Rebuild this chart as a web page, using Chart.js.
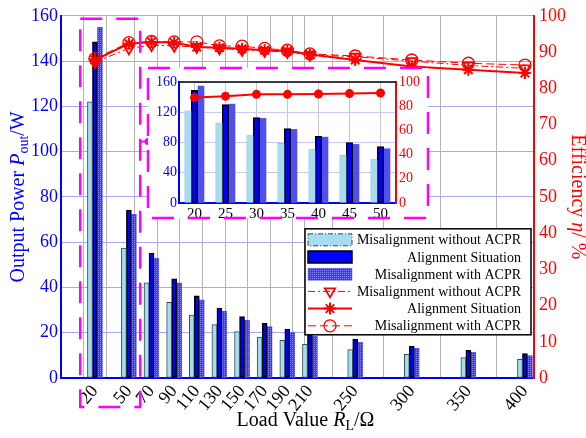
<!DOCTYPE html>
<html>
<head>
<meta charset="utf-8">
<script src="https://cdn.jsdelivr.net/npm/chart.js@4.4.1/dist/chart.umd.min.js"></script>
<style>
  html, body { margin: 0; padding: 0; background: #fff; }
  #wrap { position: relative; width: 586px; height: 438px; }
  #mainChart { position: absolute; left: 0; top: 0; }
  #insetChart { position: absolute; left: 144px; top: 64px; }
</style>
</head>
<body>
<div id="wrap">
  <canvas id="mainChart" width="586" height="438"></canvas>
  <canvas id="insetChart" width="290" height="160"></canvas>
</div>
<script>
// Valores de carga (ohm) del gráfico principal
const loadValues = [20, 50, 70, 90, 110, 130, 150, 170, 190, 210, 250, 300, 350, 400];
// Líneas verticales de la rejilla
const xGridValues = [0, 20, 40, 60, 80, 100, 120, 140, 160, 180, 200, 210, 250, 300, 350, 400];

// Potencia de salida (W)
const powerNoAcpr = [122, 57.4, 42, 33.4, 27.8, 23.6, 20.5, 18.1, 16.6, 14.9, 12.5, 10.5, 9, 8.2];
const powerAlign = [148.5, 74.2, 55.2, 43.8, 36.3, 30.9, 27.1, 24.2, 21.6, 19.5, 17.2, 14, 12.2, 10.8];
const powerWithAcpr = [155, 72.3, 53, 42, 34.5, 29.4, 25.6, 22.7, 20.3, 18.5, 15.9, 13.1, 11.4, 9.9];

// Eficiencia (%)
const effNoAcpr = [87.2, 91.0, 91.9, 91.7, 91.4, 91.0, 90.6, 90.3, 90.0, 89.2, 88.7, 87.5, 86.3, 85.5];
const effAlign = [87.8, 92.3, 92.8, 92.6, 91.4, 91.2, 90.9, 90.5, 90.3, 89.3, 87.8, 86.0, 85.1, 84.2];
const effWithAcpr = [88.2, 92.6, 92.9, 92.8, 92.8, 91.7, 91.6, 91.0, 90.5, 89.5, 88.9, 87.8, 86.9, 86.4];

// Datos del gráfico ampliado
const insetLoads = [20, 25, 30, 35, 40, 45, 50];
const insetNoAcpr = [122, 106, 89, 79, 70.5, 63, 57.5];
const insetAlign = [149, 130, 113, 98.5, 88, 80, 74.5];
const insetWithAcpr = [155, 131, 112, 97.5, 87.5, 77.5, 72];
const insetEffAlign = [87.1, 88.2, 89.8, 89.8, 90.1, 90.4, 90.9];

const FONT = "'Liberation Serif', 'Times New Roman', serif";
const RED = "#ff0000";
const BLUE = "#0000ff";
const LIGHT = "#a6dcf0";

const toXY = (ys) => loadValues.map((x, i) => ({ x: x, y: ys[i] }));
const xTickValues = Array.from(new Set([...xGridValues, ...loadValues])).sort((a, b) => a - b);

// Textura punteada para las barras "with ACPR"
function dotPattern() {
  const c = document.createElement("canvas");
  c.width = 2; c.height = 2;
  const g = c.getContext("2d");
  g.fillStyle = "#3c3cf0"; g.fillRect(0, 0, 2, 2);
  g.fillStyle = "#8080ff"; g.fillRect(0, 0, 1, 1);
  return g.createPattern(c, "repeat");
}
const bluePattern = dotPattern();

// Texto con cursiva y subíndices
function drawRichText(ctx, parts, cx, cy, angle, color) {
  ctx.save();
  ctx.translate(cx, cy);
  ctx.rotate(angle);
  ctx.fillStyle = color;
  ctx.textBaseline = "middle";
  ctx.textAlign = "left";
  const fontOf = (p) => `${p.italic ? "italic " : ""}${p.sub ? 14 : 20}px ${FONT}`;
  let total = 0;
  parts.forEach((p) => { ctx.font = fontOf(p); total += ctx.measureText(p.t).width; });
  let x = -total / 2;
  parts.forEach((p) => {
    ctx.font = fontOf(p);
    ctx.fillText(p.t, x, p.sub ? 5 : 0);
    x += ctx.measureText(p.t).width;
  });
  ctx.restore();
}

const titlesPlugin = {
  id: "titles",
  afterDraw(chart) {
    const ctx = chart.ctx;
    const a = chart.chartArea;
    const midY = (a.top + a.bottom) / 2;
    drawRichText(ctx, [{ t: "Output Power " }, { t: "P", italic: true }, { t: "out", sub: true }, { t: "/W" }],
      19, midY, -Math.PI / 2, BLUE);
    drawRichText(ctx, [{ t: "Efficiency " }, { t: "η", italic: true }, { t: "/ %" }],
      577, midY, Math.PI / 2, RED);
    drawRichText(ctx, [{ t: "Load Value " }, { t: "R", italic: true }, { t: "L", sub: true }, { t: "/Ω" }],
      (a.left + a.right) / 2 + 8, 421, 0, "#000");
  },
};

// Recuadros magenta que marcan la zona ampliada
const zoomMarkPlugin = {
  id: "zoomMark",
  afterDatasetsDraw(chart) {
    const ctx = chart.ctx;
    const xs = chart.scales.x;
    const a = chart.chartArea;
    const x1 = xs.getPixelForValue(7);
    const x2 = xs.getPixelForValue(60);
    const y1 = a.top + 3;
    const y2 = a.bottom + 29;
    ctx.save();
    ctx.strokeStyle = "#ff00ff";
    ctx.lineWidth = 2.5;
    ctx.setLineDash([22, 14]);
    ctx.strokeRect(x1, y1, x2 - x1, y2 - y1);
    ctx.setLineDash([]);
    ctx.lineWidth = 2;
    ctx.beginPath();
    ctx.moveTo(x2, 141.5);
    ctx.lineTo(148, 141.5);
    ctx.stroke();
    ctx.fillStyle = "#ff00ff";
    ctx.beginPath();
    ctx.arc(148, 141.5, 3.5, 0, Math.PI * 2);
    ctx.fill();
    ctx.restore();
  },
};

// Leyenda dibujada dentro del área del gráfico
const legendPlugin = {
  id: "legendBox",
  afterDraw(chart) {
    const ctx = chart.ctx;
    const a = chart.chartArea;
    const w = 226, h = 106;
    const x = a.right - 229, y = a.top + 213;
    ctx.save();
    ctx.fillStyle = "#fff";
    ctx.fillRect(x, y, w, h);
    ctx.strokeStyle = "#000";
    ctx.lineWidth = 1.5;
    ctx.strokeRect(x, y, w, h);
    chart.data.datasets.forEach((ds, i) => {
      const cy = y + 11 + i * 17.2;
      const sx = x + 3, sw = 44;
      ctx.save();
      if (ds.type === "line") {
        ctx.strokeStyle = ds.borderColor;
        ctx.lineWidth = ds.borderWidth;
        ctx.setLineDash(ds.borderDash || []);
        ctx.beginPath();
        ctx.moveTo(sx, cy);
        ctx.lineTo(sx + sw, cy);
        ctx.stroke();
        ctx.setLineDash([]);
        ctx.fillStyle = ds.pointBackgroundColor;
        ctx.lineWidth = ds.pointBorderWidth;
        Chart.helpers.drawPoint(ctx, {
          pointStyle: ds.pointStyle, rotation: ds.pointRotation || 0,
          radius: ds.pointRadius, borderWidth: ds.pointBorderWidth,
        }, sx + sw / 2, cy);
      } else {
        ctx.fillStyle = ds.backgroundColor;
        ctx.fillRect(sx, cy - 6, sw, 12);
        ctx.strokeStyle = ds.borderColor;
        ctx.lineWidth = ds.borderWidth;
        if (ds.legendDash) ctx.setLineDash(ds.legendDash);
        ctx.strokeRect(sx, cy - 6, sw, 12);
      }
      ctx.restore();
      ctx.fillStyle = "#000";
      ctx.font = `14px ${FONT}`;
      ctx.textAlign = "right";
      ctx.textBaseline = "middle";
      ctx.fillText(ds.label, x + 216, cy + 1);
    });
    ctx.restore();
  },
};

const tickFont = { family: FONT, size: 18 };

new Chart(document.getElementById("mainChart"), {
  type: "bar",
  data: {
    datasets: [
      {
        label: "Misalignment without ACPR", data: toXY(powerNoAcpr),
        backgroundColor: LIGHT, borderColor: "#2f4f4f", borderWidth: 1, legendDash: [5, 2, 1, 2],
        barThickness: 5, borderSkipped: false, order: 2,
      },
      {
        label: "Alignment Situation", data: toXY(powerAlign),
        backgroundColor: BLUE, borderColor: "#000", borderWidth: 1.5,
        barThickness: 5, borderSkipped: false, order: 2,
      },
      {
        label: "Misalignment with ACPR", data: toXY(powerWithAcpr),
        backgroundColor: bluePattern, borderColor: "#5a5af5", borderWidth: 0.5,
        barThickness: 5, borderSkipped: false, order: 2,
      },
      {
        type: "line", label: "Misalignment without ACPR", data: toXY(effNoAcpr), yAxisID: "y2",
        borderColor: RED, borderWidth: 1, borderDash: [7, 3, 2, 3],
        pointStyle: "triangle", pointRotation: 180, pointRadius: 6, pointBorderWidth: 1.8,
        pointBorderColor: RED, pointBackgroundColor: "rgba(255,255,255,0)", order: 1,
      },
      {
        type: "line", label: "Alignment Situation", data: toXY(effAlign), yAxisID: "y2",
        borderColor: RED, borderWidth: 2,
        pointStyle: "star", pointRadius: 6, pointBorderWidth: 2,
        pointBorderColor: RED, pointBackgroundColor: RED, order: 1,
      },
      {
        type: "line", label: "Misalignment with ACPR", data: toXY(effWithAcpr), yAxisID: "y2",
        borderColor: RED, borderWidth: 1, borderDash: [8, 4],
        pointStyle: "circle", pointRadius: 6, pointBorderWidth: 1.3,
        pointBorderColor: RED, pointBackgroundColor: "rgba(255,255,255,0)", order: 1,
      },
    ],
  },
  options: {
    responsive: false,
    animation: false,
    devicePixelRatio: 1,
    layout: { padding: { top: 11, left: 0, right: 0, bottom: 0 } },
    plugins: { legend: { display: false }, tooltip: { enabled: false } },
    scales: {
      x: {
        type: "linear", min: -10, max: 408, offset: false,
        afterBuildTicks: (s) => { s.ticks = xTickValues.map((v) => ({ value: v })); },
        afterFit: (s) => { s.height = 60; },
        grid: {
          color: (c) => (c.tick && xGridValues.includes(c.tick.value) ? "#b4b4b4" : "rgba(0,0,0,0)"),
          drawTicks: false,
        },
        border: { color: BLUE, width: 2 },
        ticks: {
          autoSkip: false, minRotation: 50, maxRotation: 50, padding: 3,
          color: "#000", font: tickFont,
          callback: (v) => (loadValues.includes(v) ? String(v) : ""),
        },
      },
      y: {
        position: "left", min: 0, max: 160,
        afterFit: (s) => { s.width = 61; },
        ticks: { stepSize: 20, color: BLUE, font: tickFont, padding: 3 },
        grid: { color: "#a8a8f0", drawTicks: false },
        border: { color: BLUE, width: 2 },
      },
      y2: {
        position: "right", min: 0, max: 100,
        afterFit: (s) => { s.width = 52; },
        ticks: { stepSize: 10, color: RED, font: tickFont, padding: 5 },
        grid: { drawOnChartArea: false, drawTicks: false },
        border: { color: RED, width: 2 },
      },
    },
  },
  plugins: [zoomMarkPlugin, legendPlugin, titlesPlugin],
});

// Fondo blanco y marco del gráfico ampliado
const insetFramePlugin = {
  id: "insetFrame",
  beforeDraw(chart) {
    const ctx = chart.ctx;
    ctx.save();
    ctx.fillStyle = "#fff";
    ctx.fillRect(4, 4, 280, 150);
    ctx.restore();
  },
  afterDraw(chart) {
    const ctx = chart.ctx;
    const a = chart.chartArea;
    ctx.save();
    ctx.strokeStyle = "#000";
    ctx.lineWidth = 1.5;
    ctx.beginPath();
    ctx.moveTo(a.left, a.top);
    ctx.lineTo(a.right, a.top);
    ctx.stroke();
    ctx.strokeStyle = "#ff00ff";
    ctx.lineWidth = 2.5;
    ctx.setLineDash([22, 14]);
    ctx.strokeRect(4, 4, 280, 150);
    ctx.restore();
  },
};

const insetFont = { family: FONT, size: 14 };

new Chart(document.getElementById("insetChart"), {
  type: "bar",
  data: {
    labels: insetLoads,
    datasets: [
      { label: "Misalignment without ACPR", data: insetNoAcpr, backgroundColor: LIGHT,
        borderColor: "#7fa9bb", borderWidth: 0.5, barThickness: 6.5, borderSkipped: false, order: 2 },
      { label: "Alignment Situation", data: insetAlign, backgroundColor: BLUE,
        borderColor: "#000", borderWidth: 1.5, barThickness: 6.5, borderSkipped: false, order: 2 },
      { label: "Misalignment with ACPR", data: insetWithAcpr, backgroundColor: "#5050f0",
        borderColor: "#6a6af5", borderWidth: 0.5, barThickness: 6.5, borderSkipped: false, order: 2 },
      { type: "line", label: "Alignment Situation", data: insetEffAlign, yAxisID: "y2",
        borderColor: RED, borderWidth: 2, pointStyle: "circle", pointRadius: 3.5,
        pointBackgroundColor: RED, pointBorderColor: RED, order: 1 },
    ],
  },
  options: {
    responsive: false,
    animation: false,
    devicePixelRatio: 1,
    layout: { padding: { top: 18, left: 0, right: 0, bottom: 0 } },
    plugins: { legend: { display: false }, tooltip: { enabled: false } },
    scales: {
      x: {
        type: "category", offset: true,
        afterFit: (s) => { s.height = 21; },
        grid: { offset: false, color: "#c8c8c8", drawTicks: false },
        border: { color: BLUE, width: 2 },
        ticks: { color: "#000", font: { family: FONT, size: 15 }, padding: 2, maxRotation: 0 },
      },
      y: {
        position: "left", min: 0, max: 160,
        afterFit: (s) => { s.width = 35; },
        ticks: { stepSize: 20, color: BLUE, font: insetFont, padding: 2,
          callback: (v) => (v % 40 === 0 ? String(v) : "") },
        grid: { color: "#c8c8f0", drawTicks: false },
        border: { color: BLUE, width: 2 },
      },
      y2: {
        position: "right", min: 0, max: 100,
        afterFit: (s) => { s.width = 38; },
        ticks: { stepSize: 20, color: RED, font: insetFont, padding: 3 },
        grid: { drawOnChartArea: false, drawTicks: false },
        border: { color: RED, width: 2 },
      },
    },
  },
  plugins: [insetFramePlugin],
});
</script>
</body>
</html>
